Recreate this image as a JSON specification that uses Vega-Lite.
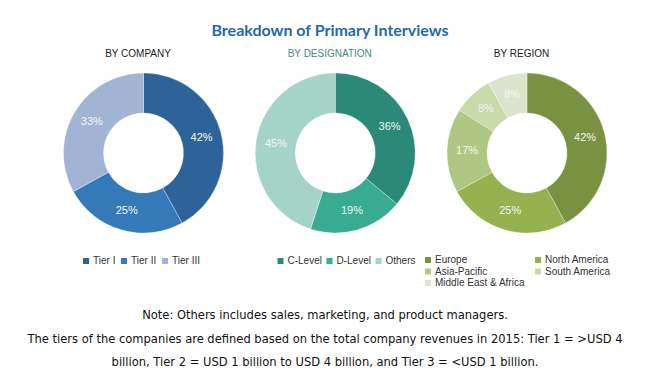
{
  "$schema": "https://vega.github.io/schema/vega-lite/v6.json",
  "background": "white",
  "padding": {"left": 0, "top": 23, "right": 0, "bottom": 0},
  "bounds": "flush",
  "spacing": 74,
  "title": {"text": "Breakdown of Primary Interviews", "font": "Lato", "fontSize": 16, "fontWeight": "bold", "color": "#2369a9", "anchor": "middle", "offset": 9, "dx": 5},
  "datasets": {
    "interviews": [
      {"panel": "BY COMPANY", "segment": "Tier I", "share": 0.42, "ord": 1},
      {"panel": "BY COMPANY", "segment": "Tier II", "share": 0.25, "ord": 2},
      {"panel": "BY COMPANY", "segment": "Tier III", "share": 0.33, "ord": 3},
      {"panel": "BY DESIGNATION", "segment": "C-Level", "share": 0.36, "ord": 1},
      {"panel": "BY DESIGNATION", "segment": "D-Level", "share": 0.19, "ord": 2},
      {"panel": "BY DESIGNATION", "segment": "Others", "share": 0.45, "ord": 3},
      {"panel": "BY REGION", "segment": "Europe", "share": 0.42, "ord": 1},
      {"panel": "BY REGION", "segment": "North America", "share": 0.25, "ord": 2},
      {"panel": "BY REGION", "segment": "Asia-Pacific", "share": 0.17, "ord": 3},
      {"panel": "BY REGION", "segment": "South America", "share": 0.08, "ord": 4},
      {"panel": "BY REGION", "segment": "Middle East & Africa", "share": 0.08, "ord": 5}
    ],
    "notes": [
      {"line": 1, "text": "Note: Others includes sales, marketing, and product managers."},
      {"line": 2, "text": "The tiers of the companies are defined based on the total company revenues in 2015: Tier 1 = >USD 4"},
      {"line": 3, "text": "billion, Tier 2 = USD 1 billion to USD 4 billion, and Tier 3 = <USD 1 billion."}
    ]
  },
  "vconcat": [
    {
      "width": 650,
      "height": 176,
      "data": {"name": "interviews"},
      "encoding": {
        "x": {
          "field": "panel", "type": "nominal",
          "scale": {"type": "point", "domain": ["BY COMPANY", "BY DESIGNATION", "BY REGION"], "range": [143.5, 527], "padding": 0},
          "axis": {"orient": "top", "title": null, "domain": false, "ticks": false, "tickSize": 0, "grid": false, "labelAngle": 0, "labelFont": "Liberation Sans", "labelFontSize": 10, "labelPadding": 7, "labelOffset": -6,
            "labelColor": {"expr": "datum.value === 'BY DESIGNATION' ? '#3f8c84' : '#222222'"}}
        },
        "theta": {"field": "share", "type": "quantitative", "stack": true, "scale": {"domain": [0, 1]}},
        "order": {"field": "ord", "type": "quantitative"}
      },
      "layer": [
        {
          "transform": [{"filter": "datum.panel === 'BY COMPANY'"}],
          "mark": {"type": "arc", "outerRadius": 80, "innerRadius": 40, "stroke": "#ffffff", "strokeWidth": 0.6, "strokeOpacity": 0.5},
          "encoding": {
            "color": {"field": "segment", "type": "nominal",
              "scale": {"domain": ["Tier I", "Tier II", "Tier III"], "range": ["#2e6399", "#347ab8", "#a2b4d4"]},
              "legend": {"orient": "none", "legendX": 81, "legendY": 191, "direction": "horizontal", "title": null, "padding": 0, "symbolType": "square", "symbolSize": 36, "symbolStrokeWidth": 0, "labelFont": "Liberation Sans", "labelFontSize": 10, "labelColor": "#333333", "labelOffset": 2, "columnPadding": 3}}
          }
        },
        {
          "transform": [{"filter": "datum.panel === 'BY COMPANY'"}],
          "mark": {"type": "text", "radius": 60, "fill": "#f5f5f5", "font": "Liberation Sans", "fontSize": 11},
          "encoding": {"text": {"field": "share", "type": "quantitative", "format": ".0%"}}
        },
        {
          "transform": [{"filter": "datum.panel === 'BY DESIGNATION'"}],
          "mark": {"type": "arc", "outerRadius": 80, "innerRadius": 40, "stroke": "#ffffff", "strokeWidth": 0.6, "strokeOpacity": 0.5},
          "encoding": {
            "color": {"field": "segment", "type": "nominal",
              "scale": {"domain": ["C-Level", "D-Level", "Others"], "range": ["#2a8a77", "#38ab91", "#a6d3c7"]},
              "legend": {"orient": "none", "legendX": 275.5, "legendY": 191, "direction": "horizontal", "title": null, "padding": 0, "symbolType": "square", "symbolSize": 36, "symbolStrokeWidth": 0, "labelFont": "Liberation Sans", "labelFontSize": 10, "labelColor": "#333333", "labelOffset": 2, "columnPadding": 2}}
          }
        },
        {
          "transform": [{"filter": "datum.panel === 'BY DESIGNATION'"}],
          "mark": {"type": "text", "radius": 60, "fill": "#f5f5f5", "font": "Liberation Sans", "fontSize": 11},
          "encoding": {"text": {"field": "share", "type": "quantitative", "format": ".0%"}}
        },
        {
          "transform": [{"filter": "datum.panel === 'BY REGION'"}],
          "mark": {"type": "arc", "outerRadius": 80, "innerRadius": 40, "stroke": "#ffffff", "strokeWidth": 0.6, "strokeOpacity": 0.5},
          "encoding": {
            "color": {"field": "segment", "type": "nominal",
              "scale": {"domain": ["Europe", "North America", "Asia-Pacific", "South America", "Middle East & Africa"], "range": ["#7a9142", "#96b24f", "#aec783", "#c8d9aa", "#dce5cb"]},
              "legend": {"orient": "none", "legendX": 423, "legendY": 190, "direction": "horizontal", "columns": 2, "title": null, "padding": 0, "symbolType": "square", "symbolSize": 36, "symbolStrokeWidth": 0, "labelFont": "Liberation Sans", "labelFontSize": 10, "labelColor": "#333333", "labelOffset": 2, "columnPadding": 7, "rowPadding": 1.5}}
          }
        },
        {
          "transform": [{"filter": "datum.panel === 'BY REGION'"}],
          "mark": {"type": "text", "radius": 60, "fill": "#f5f5f5", "font": "Liberation Sans", "fontSize": 11},
          "encoding": {"text": {"field": "share", "type": "quantitative", "format": ".0%"}}
        }
      ],
      "resolve": {"scale": {"color": "independent"}}
    },
    {
      "width": 650,
      "height": 47,
      "data": {"name": "notes"},
      "mark": {"type": "text", "font": "Liberation Sans Narrow, DejaVu Sans Condensed, Roboto Condensed, Liberation Sans, sans-serif", "fontSize": 12.8, "fill": "#111111"},
      "encoding": {
        "y": {"field": "line", "type": "ordinal", "axis": null, "scale": {"type": "point", "padding": 0}},
        "text": {"field": "text"}
      }
    }
  ],
  "config": {
    "view": {"stroke": null}
  }
}
